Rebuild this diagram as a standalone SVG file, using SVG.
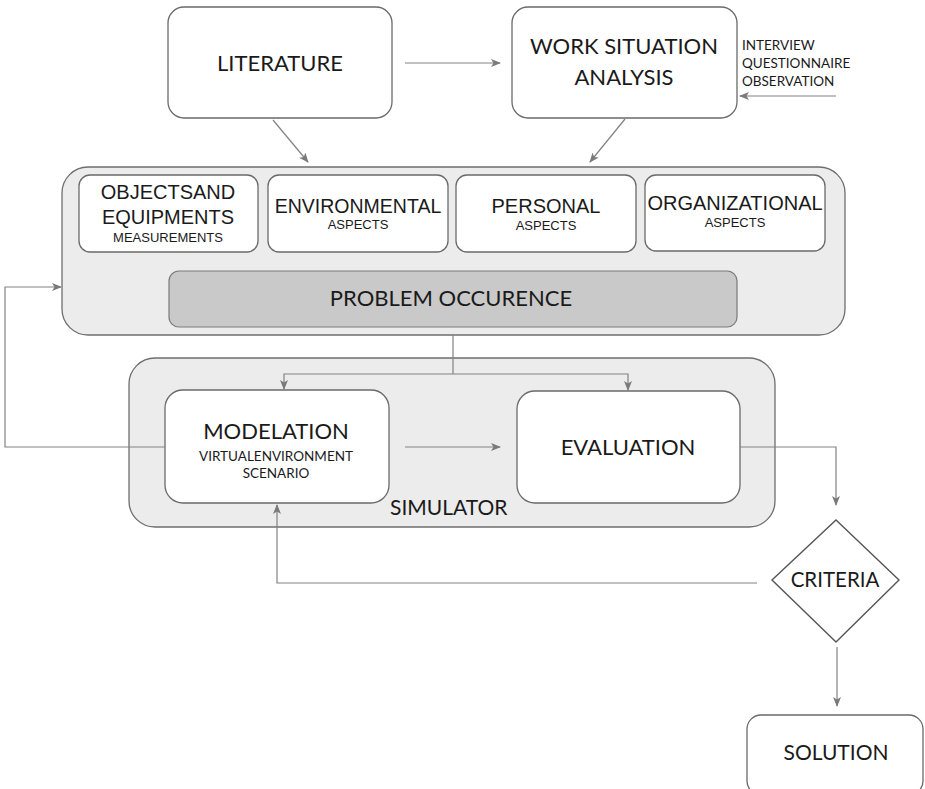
<svg xmlns="http://www.w3.org/2000/svg" width="925" height="789" viewBox="0 0 925 789">
<style>
.box{fill:#ffffff;stroke:#6a6a6a;stroke-width:1.3}
.cont{fill:#ececec;stroke:#6e6e6e;stroke-width:1.3}
.dark{fill:#c9c9c9;stroke:#7a7a7a;stroke-width:1.2}
.t{font-family:Lato,"Open Sans",sans-serif;fill:#1a1a1a;text-anchor:middle}
.a{font-family:"Liberation Sans",Arial,sans-serif;fill:#1a1a1a;text-anchor:middle}
.c{fill:none;stroke:#828282;stroke-width:1.2}
</style>
<defs>
<marker id="ah" viewBox="0 0 10 8" refX="9" refY="4" markerWidth="10" markerHeight="8" markerUnits="userSpaceOnUse" orient="auto">
<path d="M0,0 L10,4 L0,8 L2.5,4 z" fill="#7a7a7a"/>
</marker>
</defs>
<rect width="925" height="789" fill="#ffffff"/>

<g id="literature">
<rect class="box" x="168" y="7" width="224" height="111" rx="16"/>
<text class="t" x="280" y="71" font-size="22">LITERATURE</text>
</g>

<g id="work-situation">
<rect class="box" x="512" y="7" width="225" height="111" rx="16"/>
<text class="t" x="624" y="54" font-size="22">WORK SITUATION</text>
<text class="t" x="624" y="85" font-size="22">ANALYSIS</text>
</g>

<g id="methods">
<text class="t" x="742" y="50" font-size="13.5" style="text-anchor:start">INTERVIEW</text>
<text class="t" x="742" y="68" font-size="13.5" style="text-anchor:start">QUESTIONNAIRE</text>
<text class="t" x="742" y="86" font-size="13.5" style="text-anchor:start">OBSERVATION</text>
</g>

<g id="aspects-container">
<rect class="cont" x="62" y="167" width="783" height="168" rx="26"/>
</g>

<g id="objects">
<rect class="box" x="79" y="175" width="179" height="77" rx="11"/>
<text class="a" x="168" y="199" font-size="20">OBJECTSAND</text>
<text class="a" x="168" y="224" font-size="20">EQUIPMENTS</text>
<text class="a" x="168" y="242" font-size="13">MEASUREMENTS</text>
</g>

<g id="environmental">
<rect class="box" x="268" y="175" width="180" height="77" rx="11"/>
<text class="a" x="358" y="213" font-size="19.5">ENVIRONMENTAL</text>
<text class="a" x="358" y="229" font-size="13">ASPECTS</text>
</g>

<g id="personal">
<rect class="box" x="456" y="175" width="180" height="77" rx="11"/>
<text class="a" x="546" y="213" font-size="20">PERSONAL</text>
<text class="a" x="546" y="230" font-size="13">ASPECTS</text>
</g>

<g id="organizational">
<rect class="box" x="645" y="175" width="180" height="76" rx="11"/>
<text class="a" x="735" y="210" font-size="20">ORGANIZATIONAL</text>
<text class="a" x="735" y="227" font-size="13">ASPECTS</text>
</g>

<g id="problem-occurence">
<rect class="dark" x="169" y="271" width="568" height="56" rx="10"/>
<text class="t" x="451" y="306" font-size="22">PROBLEM OCCURENCE</text>
</g>

<g id="simulator">
<rect class="cont" x="129" y="358" width="646" height="169" rx="26"/>
<text class="t" x="390" y="515" font-size="21" style="text-anchor:start">SIMULATOR</text>
</g>

<g id="modelation">
<rect class="box" x="165" y="390" width="224" height="113" rx="18"/>
<text class="t" x="276" y="439" font-size="22">MODELATION</text>
<text class="t" x="276" y="461" font-size="13.5">VIRTUALENVIRONMENT</text>
<text class="t" x="276" y="478" font-size="13.5">SCENARIO</text>
</g>

<g id="evaluation">
<rect class="box" x="517" y="391" width="223" height="112" rx="18"/>
<text class="t" x="628" y="455" font-size="22">EVALUATION</text>
</g>

<g id="criteria">
<polygon points="836,520 899,580 836,642 772,580" fill="#ffffff" stroke="#555555" stroke-width="1.4"/>
<text class="t" x="835" y="587" font-size="20.5">CRITERIA</text>
</g>

<g id="solution">
<rect class="box" x="747" y="715" width="176" height="80" rx="14"/>
<text class="t" x="836" y="760" font-size="21">SOLUTION</text>
</g>

<g id="connectors">
<line class="c" x1="405" y1="63" x2="500" y2="63" marker-end="url(#ah)"/>
<line class="c" x1="273" y1="120" x2="308" y2="162" marker-end="url(#ah)"/>
<line class="c" x1="625" y1="119" x2="590" y2="162" marker-end="url(#ah)"/>
<line class="c" x1="836" y1="96" x2="740" y2="96" marker-end="url(#ah)"/>
<polyline class="c" points="453,335 453,374"/>
<polyline class="c" points="453,374 284,374 284,389" marker-end="url(#ah)"/>
<polyline class="c" points="453,374 628,374 628,390" marker-end="url(#ah)"/>
<line class="c" x1="405" y1="447" x2="500" y2="447" marker-end="url(#ah)"/>
<polyline class="c" points="165,447 5,447 5,287 61,287" marker-end="url(#ah)"/>
<polyline class="c" points="740,447 836,447 836,505" marker-end="url(#ah)"/>
<polyline class="c" points="757,583 277,583 277,505" marker-end="url(#ah)"/>
<line class="c" x1="837" y1="647" x2="837" y2="706" marker-end="url(#ah)"/>
</g>
</svg>
